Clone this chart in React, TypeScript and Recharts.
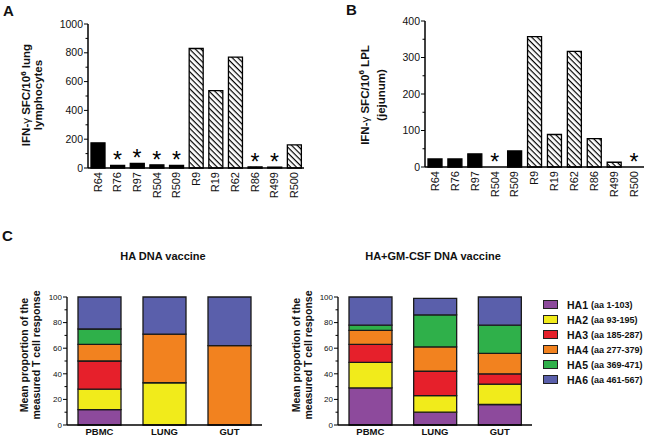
import React from "react";
import { ComposedChart, BarChart, Bar, Line, XAxis, YAxis, Cell } from "recharts";

// panels A & B: animals, vaccine group and SFC counts
const animals = ["R64", "R76", "R97", "R504", "R509", "R9", "R19", "R62", "R86", "R499", "R500"];
const gmCsfGroup = [false, false, false, false, false, true, true, true, true, true, true];
const lungSfc = [175, 18, 32, 22, 18, 830, 538, 770, 8, 6, 160];
const lungStar = [false, true, true, true, true, false, false, false, true, true, false];
const lplSfc = [22, 22, 36, 0, 44, 357, 89, 317, 78, 13, 0];
const lplStar = [false, false, false, true, false, false, false, false, false, false, true];

const lungTicks = [0, 100, 200, 300, 400, 500, 600, 700, 800, 900, 1000];
const lplTicks = [0, 50, 100, 150, 200, 250, 300, 350, 400];
const pctTicks = [0, 10, 20, 30, 40, 50, 60, 70, 80, 90, 100];

// panel C: proportions per HA region (HA1..HA6)
const tissues = ["PBMC", "LUNG", "GUT"];
const regions = ["HA1", "HA2", "HA3", "HA4", "HA5", "HA6"];
const regionRanges = ["(aa 1-103)", "(aa 93-195)", "(aa 185-287)", "(aa 277-379)", "(aa 369-471)", "(aa 461-567)"];
const regionColors = ["#8D4A9C", "#F1EB1B", "#E6202B", "#F2821F", "#2FB04A", "#5A5FAB"];

const haPbmc = [12, 16, 22, 13, 12, 25];
const haLung = [0, 33, 0, 38, 0, 29];
const haGut = [0, 0, 0, 62, 0, 38];
const gmPbmc = [29, 20, 14, 11, 4, 22];
const gmLung = [10, 13, 19, 19, 25, 13];
const gmGut = [16, 16, 8, 16, 22, 22];

const FONT = "'Liberation Sans', Arial, Helvetica, sans-serif";
const INK = "#111";

const toRows = (sets: number[][]) =>
  tissues.map((tissue, i) => {
    const row: Record<string, any> = { tissue };
    regions.forEach((r, j) => (row[r] = sets[i][j]));
    return row;
  });

const sfcRows = (values: number[], stars: boolean[]) =>
  animals.map((name, i) => ({ name, value: values[i], star: stars[i], hatched: gmCsfGroup[i] }));

function yTick(majorStep: number, fontSize: number) {
  return (props: any) => {
    const { x, y, payload } = props;
    const major = payload.value % majorStep === 0;
    return (
      <g>
        <line x1={x - (major ? 4 : 2.5)} x2={x} y1={y} y2={y} stroke="#000" strokeWidth={1} />
        {major && (
          <text x={x - 5} y={y} dy="0.35em" textAnchor="end" fontSize={fontSize} fill={INK} fontFamily={FONT}>
            {payload.value}
          </text>
        )}
      </g>
    );
  };
}

const RotTick = (props: any) => {
  const { x, y, payload } = props;
  const ty = y + 4;
  return (
    <text x={x} y={ty} transform={`rotate(-90 ${x} ${ty})`} textAnchor="end" dy="0.35em" fontSize={11} fill={INK} fontFamily={FONT}>
      {payload.value}
    </text>
  );
};

const TissueTick = (props: any) => {
  const { x, y, payload } = props;
  return (
    <text x={x} y={y + 10} textAnchor="middle" fontSize={9.5} fontWeight="bold" fill={INK} fontFamily={FONT}>
      {payload.value}
    </text>
  );
};

// asterisk drawn over bars marked as below detection
const StarDot = (p: any) =>
  p.payload && p.payload.star ? (
    <text key={p.index} x={p.cx} y={p.cy + 3} textAnchor="middle" fontSize={23} fill="#000" fontFamily={FONT}>
      *
    </text>
  ) : (
    <g key={p.index} />
  );

function VTitle({ cx, cy, lh, size, children }: any) {
  return (
    <div
      style={{
        position: "absolute",
        left: cx,
        top: cy,
        transform: "translate(-50%, -50%) rotate(-90deg)",
        whiteSpace: "nowrap",
        textAlign: "center",
        fontWeight: "bold",
        fontSize: size,
        lineHeight: `${lh}px`,
        color: INK,
      }}
    >
      {children}
    </div>
  );
}

const gamma = <span style={{ fontWeight: "normal" }}>γ</span>;
const six = <sup style={{ fontSize: "0.7em", lineHeight: 0 }}>6</sup>;

function SfcChart({ id, rows, max, ticks, major, width, margin }: any) {
  return (
    <ComposedChart width={width} height={215} data={rows} margin={margin}>
      <defs>
        <pattern id={id} width={4} height={4} patternUnits="userSpaceOnUse" patternTransform="rotate(45)">
          <rect width={4} height={4} fill="#fff" />
          <line x1={0} y1={0.6} x2={4} y2={0.6} stroke="#000" strokeWidth={1.2} />
        </pattern>
      </defs>
      <XAxis
        dataKey="name"
        interval={0}
        height={40}
        tick={<RotTick />}
        tickLine={false}
        tickSize={0}
        tickMargin={0}
        axisLine={{ stroke: "#000", strokeWidth: 1.5 }}
      />
      <YAxis
        domain={[0, max]}
        ticks={ticks}
        interval={0}
        width={40}
        tick={yTick(major, 10.5)}
        tickLine={false}
        tickSize={0}
        tickMargin={0}
        axisLine={{ stroke: "#000", strokeWidth: 1.5 }}
      />
      <Bar dataKey="value" barSize={14} stroke="#000" strokeWidth={1.3} isAnimationActive={false}>
        {rows.map((r: any) => (
          <Cell key={r.name} fill={r.hatched ? `url(#${id})` : "#000"} />
        ))}
      </Bar>
      <Line dataKey="value" stroke="none" dot={StarDot} activeDot={false} isAnimationActive={false} />
    </ComposedChart>
  );
}

function StackChart({ rows, width, margin }: any) {
  return (
    <BarChart width={width} height={161} data={rows} margin={margin}>
      <XAxis
        dataKey="tissue"
        height={16}
        tick={<TissueTick />}
        tickLine={false}
        tickSize={0}
        tickMargin={0}
        axisLine={{ stroke: "#000", strokeWidth: 1.3 }}
      />
      <YAxis
        domain={[0, 100]}
        ticks={pctTicks}
        interval={0}
        width={40}
        tick={yTick(20, 8)}
        tickLine={false}
        tickSize={0}
        tickMargin={0}
        axisLine={{ stroke: "#000", strokeWidth: 1.3 }}
      />
      {regions.map((r, j) => (
        <Bar key={r} dataKey={r} stackId="s" barSize={43} fill={regionColors[j]} stroke="#1a1a1a" strokeWidth={1.3} isAnimationActive={false} />
      ))}
    </BarChart>
  );
}

export default function App() {
  const abs = (left: number, top: number): React.CSSProperties => ({ position: "absolute", left, top });
  const letter: React.CSSProperties = { fontSize: 15, fontWeight: "bold", lineHeight: "15px", zIndex: 5 };
  return (
    <div style={{ position: "absolute", left: 0, top: 0, width: 649, height: 441, background: "#fff", fontFamily: FONT, color: INK }}>
      <div style={abs(0, 0)}>
        <SfcChart id="hatchA" rows={sfcRows(lungSfc, lungStar)} max={1000} ticks={lungTicks} major={200} width={320} margin={{ top: 24, right: 16, left: 48, bottom: 7 }} />
      </div>
      <div style={abs(320, 0)}>
        <SfcChart id="hatchB" rows={sfcRows(lplSfc, lplStar)} max={400} ticks={lplTicks} major={100} width={329} margin={{ top: 21, right: 5, left: 65, bottom: 8 }} />
      </div>

      <VTitle cx={33} cy={95} lh={11.6} size={11.5}>
        <div>IFN-{gamma} SFC/10{six} lung</div>
        <div>lymphocytes</div>
      </VTitle>
      <VTitle cx={373} cy={95} lh={16} size={11.5}>
        <div>IFN-{gamma} SFC/10{six} LPL</div>
        <div>(jejunum)</div>
      </VTitle>

      <div style={{ ...abs(0, 250), width: 326, textAlign: "center", fontSize: 11, fontWeight: "bold" }}>HA DNA vaccine</div>
      <div style={{ ...abs(233, 250), width: 400, textAlign: "center", fontSize: 11, fontWeight: "bold" }}>HA+GM-CSF DNA vaccine</div>

      <div style={abs(0, 280)}>
        <StackChart rows={toRows([haPbmc, haLung, haGut])} width={290} margin={{ top: 17, right: 28, left: 27, bottom: 0 }} />
      </div>
      <div style={abs(290, 280)}>
        <StackChart rows={toRows([gmPbmc, gmLung, gmGut])} width={359} margin={{ top: 17, right: 117, left: 8, bottom: 0 }} />
      </div>

      <VTitle cx={30} cy={355} lh={12} size={10.5}>
        <div>Mean proportion of the</div>
        <div>measured T cell response</div>
      </VTitle>
      <VTitle cx={302} cy={355} lh={12} size={10.5}>
        <div>Mean proportion of the</div>
        <div>measured T cell response</div>
      </VTitle>

      <div style={abs(543, 297)}>
        {regions.map((r, j) => (
          <div key={r} style={{ display: "flex", alignItems: "center", height: 15, whiteSpace: "nowrap" }}>
            <span style={{ width: 13, height: 7, background: regionColors[j], border: "1px solid #222", marginRight: 9 }} />
            <span style={{ fontSize: 10.5, fontWeight: "bold" }}>{r}</span>
            <span style={{ fontSize: 9, fontWeight: "bold", marginLeft: 3 }}>{regionRanges[j]}</span>
          </div>
        ))}
      </div>

      <div style={{ ...abs(3, 3), ...letter }}>A</div>
      <div style={{ ...abs(346, 2), ...letter }}>B</div>
      <div style={{ ...abs(2, 228), ...letter }}>C</div>
    </div>
  );
}
